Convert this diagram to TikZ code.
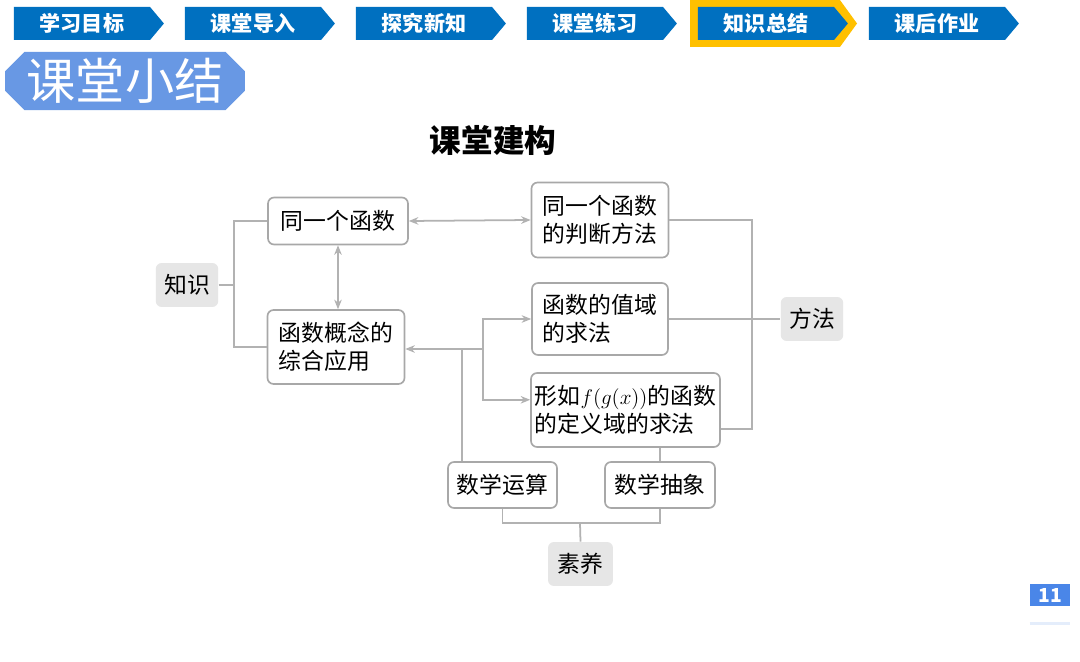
\documentclass[tikz,border=0pt]{standalone}
\usepackage{fontspec}
\setmainfont{Noto Sans CJK SC}
\usepackage{xcolor}
\usepackage{tikz}
\usetikzlibrary{arrows.meta,shapes,calc,positioning}
\definecolor{tabblue}{RGB}{0,112,192}
\definecolor{tabgold}{RGB}{255,192,0}
\definecolor{badgeblue}{RGB}{104,152,228}
\definecolor{pageblue}{RGB}{74,134,232}
\definecolor{linegray}{RGB}{178,178,178}
\definecolor{boxgray}{RGB}{168,168,168}
\definecolor{tagfill}{RGB}{230,230,230}
\tikzset{
  kstab/.style={
    signal, signal to=east, signal pointer angle=100, fill=tabblue, text=white,
    minimum width=3cm, minimum height=0.66cm, inner sep=0pt,
    font=\fontsize{12}{14}\selectfont\bfseries
  },
  ksbox/.style={
    rectangle, rounded corners=1.2mm, draw=boxgray, fill=white, line width=0.95pt,
    inner sep=2pt, align=left, font=\fontsize{13}{16}\selectfont
  },
  kstag/.style={
    rectangle, rounded corners=1.2mm, fill=tagfill,
    minimum width=1.25cm, minimum height=0.88cm, font=\fontsize{13}{16}\selectfont
  },
  ksline/.style={draw=linegray,line width=1pt},
  ksarrow/.style={ksline,-{Stealth[length=1.9mm,width=1.5mm]}},
  ksboth/.style={ksline,{Stealth[length=1.9mm,width=1.5mm]}-{Stealth[length=1.9mm,width=1.5mm]}}
}

\begin{document}
\begin{tikzpicture}[x=0.02cm,y=-0.02cm]
  \useasboundingbox[fill=white] (0,0) rectangle (1080,662);
  % navigation bar
  \node[signal,signal to=east,signal pointer angle=108,fill=tabgold,minimum width=3.34cm,minimum height=0.94cm] (tabhl) at (765,23.5) {};
  \node[kstab] (tab1) at (82,23.5) {学习目标};
  \node[kstab] (tab2) at (253,23.5) {课堂导入};
  \node[kstab] (tab3) at (424,23.5) {探究新知};
  \node[kstab] (tab4) at (595,23.5) {课堂练习};
  \node[kstab] (tab5) at (766,23.5) {知识总结};
  \node[kstab] (tab6) at (937,23.5) {课后作业};
  \node[chamfered rectangle,chamfered rectangle xsep=0.26cm,fill=badgeblue,text=white,
        minimum width=4.8cm,minimum height=1.16cm,inner sep=0pt,font=\fontsize{28}{30}\selectfont] (badge) at (125,81) {课堂小结};
  \node[font=\fontsize{18}{20}\selectfont\bfseries] (title) at (493,140) {课堂建构};
  % knowledge
  \node[kstag] (zs) at (187,285) {知识};
  \node[ksbox,minimum width=2.8cm,minimum height=0.94cm] (tyg) at (338,221) {同一个函数};
  \node[ksbox,minimum width=2.74cm,minimum height=1.48cm] (zhyy) at (336,347) {函数概念的\\综合应用};
  % methods
  \node[ksbox,minimum width=2.74cm,minimum height=1.5cm] (pdff) at (600,220) {同一个函数\\的判断方法};
  \node[ksbox,minimum width=2.72cm,minimum height=1.44cm] (zyqf) at (600,319) {函数的值域\\的求法};
  \node[ksbox,minimum width=3.78cm,minimum height=1.48cm] (dyqf) at (625.5,410) {形如$f(g(x))$的函数\\的定义域的求法};
  \node[kstag] (ff) at (812,319) {方法};
  % literacy
  \node[ksbox,minimum width=2.18cm,minimum height=0.92cm] (sxys) at (502.5,485) {数学运算};
  \node[ksbox,minimum width=2.2cm,minimum height=0.92cm] (sxcx) at (660,485) {数学抽象};
  \node[kstag,minimum width=1.3cm] (sy) at (580.5,564) {素养};
  \coordinate (kj) at (234,285);
  \coordinate (fz) at (483,349);
  \coordinate (ysj) at (462,349);
  \coordinate (ffj) at (752,320);
  \coordinate (syj) at (580,523);
  \draw[ksline] (zs.east) -- (kj);
  \draw[ksline] (tyg.west) -| (kj) |- (zhyy.west);
  \draw[ksboth] (tyg.east) -- (pdff.west);
  \draw[ksboth] (tyg.south) -- (tyg.south |- zhyy.north);
  \draw[ksarrow] (fz) -- (zhyy.east |- fz);
  \draw[ksarrow] (fz) |- (zyqf.west);
  \draw[ksarrow] (fz) |- ($(dyqf.west)!0.27!(dyqf.north west)$);
  \draw[ksline] (ysj) -- (ysj |- sxys.north);
  \draw[ksline] (sxcx.north) -- (sxcx.north |- dyqf.south);
  \draw[ksline] (pdff.east) -| (ffj) |- ($(dyqf.east)!0.5!(dyqf.south east)$);
  \draw[ksline] (zyqf.east) -- (zyqf.east -| ff.west);
  \draw[ksline] (sxys.south) |- (syj) -| (sxcx.south);
  \draw[ksline] (sy.north) -- (syj);
  % page number
  \node[fill=pageblue,text=white,minimum width=0.8cm,minimum height=0.44cm,inner sep=0pt,
        font=\fontsize{11}{12}\selectfont\bfseries] (pg) at (1050,595) {11};
  \draw[pageblue!15,line width=2pt] ([yshift=-0.34cm]pg.south west) -- ([yshift=-0.34cm]pg.south east);
\end{tikzpicture}
\end{document}
